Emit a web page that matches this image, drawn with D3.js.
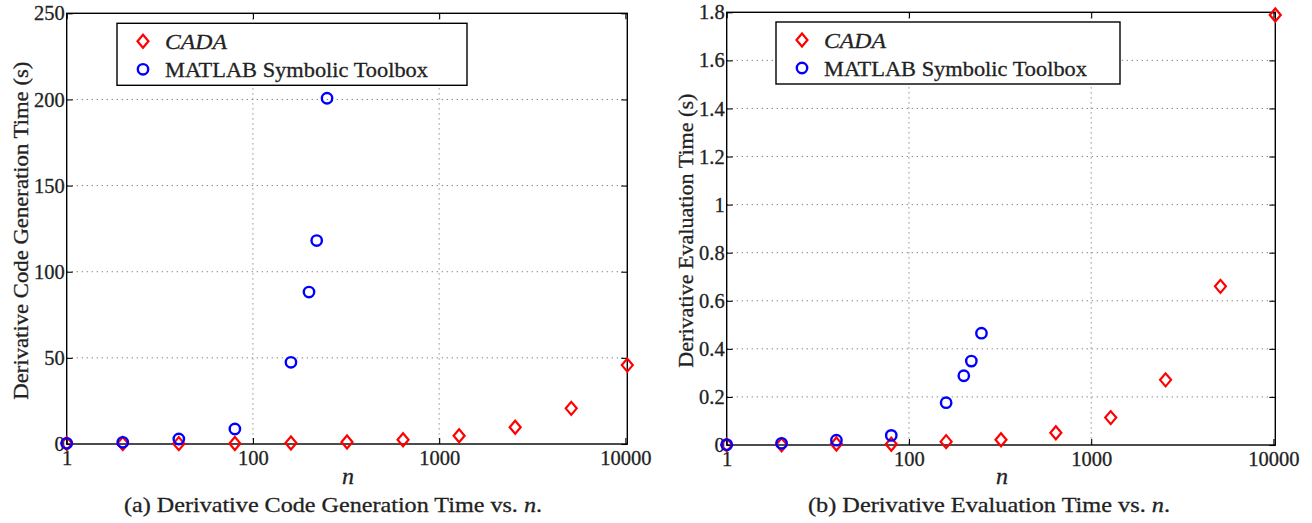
<!DOCTYPE html>
<html lang="en">
<head>
    <meta charset="UTF-8">
    <title>CADA vs MATLAB Symbolic Toolbox</title>
    <style>
        body{
            margin: 0;
            background: #fff;
        }
        svg{
            display: block;
        }
        .grid line{
            stroke: #777;
            stroke-width: 1;
            stroke-dasharray: 1.2,3.8;
        }
    </style>
    <script src="https://cdn.jsdelivr.net/npm/d3@7"></script>
</head>
<body>
<script>
    const width = 1312
    const height = 523
    const serif = "Liberation Serif"

    // problem sizes n
    const nCada = [10, 20, 40, 80, 160, 320, 640, 1280, 2560, 5120, 10240]
    const nSym = [10, 20, 40, 80, 160, 200, 220, 250]

    // (a) derivative code generation time (s)
    const genCada = [0.3, 0.3, 0.2, 0.3, 0.6, 1.2, 2.5, 4.8, 9.7, 20.7, 45.8]
    const genSym = [0.4, 1.0, 2.9, 8.7, 47.4, 88.2, 118.1, 200.7]

    // (b) derivative evaluation time (s)
    const evalCada = [0.0005, 0.001, 0.004, 0.003, 0.014, 0.022, 0.051, 0.114, 0.271, 0.66, 1.789]
    const evalSym = [0.0015, 0.007, 0.02, 0.04, 0.176, 0.288, 0.349, 0.465]

    // ticks
    const xTicks = [10, 100, 1000, 10000]
    const xTickLabels = ["1", "100", "1000", "10000"]
    const genTicks = [0, 50, 100, 150, 200, 250]
    const evalTicks = [0, 0.2, 0.4, 0.6, 0.8, 1, 1.2, 1.4, 1.6, 1.8]

    const legendNames = ["CADA", "MATLAB Symbolic Toolbox"]

    let svg = d3.select("body").append("svg")
        .attr("width", width)
        .attr("height", height)
        .attr("viewBox", `0 0 ${width} ${height}`)

    function diamond(sel){
        sel.attr("d", "M0,-6.5L5.5,0L0,6.5L-5.5,0Z")
            .attr("fill", "none")
            .attr("stroke", "#ff0000")
            .attr("stroke-width", 2.2)
    }
    function ring(sel){
        sel.attr("r", 5.2)
            .attr("fill", "none")
            .attr("stroke", "#0000ff")
            .attr("stroke-width", 2.4)
    }
    //slightly heavier text, closer to the LaTeX look
    function label(sel, size){
        sel.attr("font-family", serif)
            .attr("font-size", size)
            .attr("fill", "#222")
            .attr("stroke", "#222")
            .attr("stroke-width", 0.3)
    }

    function drawPanel(p){
        const x = d3.scaleLog().domain([10, 10240]).range([p.left, p.right])
        const y = d3.scaleLinear().domain(p.yDomain).range([p.bottom, p.top])
        const g = svg.append("g")

        //grid
        let grid = g.append("g").attr("class", "grid")
        grid.selectAll(".hg")
            .data(p.yTicks.filter(d => d > p.yDomain[0] && d < p.yDomain[1]))
            .enter().append("line")
            .attr("x1", p.left).attr("x2", p.right)
            .attr("y1", d => y(d)).attr("y2", d => y(d))
        grid.selectAll(".vg")
            .data(xTicks.slice(1, 3))
            .enter().append("line")
            .attr("x1", d => x(d)).attr("x2", d => x(d))
            .attr("y1", p.top).attr("y2", p.bottom)

        //axes, ticks pointing inwards
        g.append("g")
            .attr("transform", `translate(${p.left},0)`)
            .call(d3.axisLeft(y).tickValues(p.yTicks).tickFormat(p.yFormat)
                .tickSize(-6).tickPadding(2))
        g.append("g")
            .attr("transform", `translate(${p.right},0)`)
            .call(d3.axisRight(y).tickValues(p.yTicks).tickFormat("").tickSize(-6))
        g.append("g")
            .attr("transform", `translate(0,${p.bottom})`)
            .call(d3.axisBottom(x).tickValues(xTicks)
                .tickFormat((d, i) => xTickLabels[i]).tickSize(-6).tickPadding(6))
        g.append("g")
            .attr("transform", `translate(0,${p.top})`)
            .call(d3.axisTop(x).tickValues(xTicks).tickFormat("").tickSize(-6))
        g.selectAll(".domain").remove()
        g.selectAll(".tick line").attr("stroke", "#000").attr("stroke-width", 1.1)
        g.selectAll(".tick text").call(label, 20.5)

        g.append("rect")
            .attr("x", p.left).attr("y", p.top)
            .attr("width", p.right - p.left).attr("height", p.bottom - p.top)
            .attr("fill", "none").attr("stroke", "#000").attr("stroke-width", 1.4)

        //points
        g.append("g").selectAll("path")
            .data(nCada.map((n, i) => [n, p.cada[i]]))
            .enter().append("path")
            .attr("transform", d => `translate(${x(d[0])},${y(d[1])})`)
            .call(diamond)
        g.append("g").selectAll("circle")
            .data(nSym.map((n, i) => [n, p.sym[i]]))
            .enter().append("circle")
            .attr("cx", d => x(d[0])).attr("cy", d => y(d[1]))
            .call(ring)

        //legend
        let lg = g.append("g").attr("transform", `translate(${p.legX},${p.legY})`)
        lg.append("rect")
            .attr("width", p.legW).attr("height", 62)
            .attr("fill", "#fff").attr("stroke", "#000").attr("stroke-width", 1.4)
        lg.append("path").attr("transform", "translate(26,18)").call(diamond)
        lg.append("circle").attr("cx", 26).attr("cy", 46).call(ring)
        lg.append("text")
            .attr("x", 48).attr("y", 25.5)
            .call(label, 22).attr("font-style", "italic")
            .attr("textLength", 62).attr("lengthAdjust", "spacingAndGlyphs")
            .text(legendNames[0])
        lg.append("text")
            .attr("x", 48).attr("y", 53.5)
            .call(label, 22)
            .attr("textLength", 263).attr("lengthAdjust", "spacingAndGlyphs")
            .text(legendNames[1])

        //labels
        g.append("text")
            .attr("transform", `translate(${p.yLabX},${(p.top + p.bottom) / 2 + 2}) rotate(-90)`)
            .attr("text-anchor", "middle")
            .attr("dy", "0.35em")
            .call(label, 22)
            .attr("textLength", p.yLabLen).attr("lengthAdjust", "spacingAndGlyphs")
            .text(p.yLabel)
        g.append("text")
            .attr("x", (p.left + p.right) / 2 + 1).attr("y", 484)
            .attr("text-anchor", "middle")
            .call(label, 24).attr("font-style", "italic")
            .text("n")
        let cap = g.append("text")
            .attr("x", p.capX).attr("y", 512)
            .attr("text-anchor", "middle")
            .call(label, 22)
            .attr("textLength", p.capLen).attr("lengthAdjust", "spacingAndGlyphs")
        cap.append("tspan").text(p.caption)
        cap.append("tspan").attr("font-style", "italic").text("n")
        cap.append("tspan").text(".")
    }

    drawPanel({
        left: 66.7, right: 627.3, top: 13.3, bottom: 444,
        yDomain: [0, 250], yTicks: genTicks, yFormat: d3.format("d"),
        cada: genCada, sym: genSym,
        legX: 117, legY: 23.3, legW: 350,
        yLabX: 20, yLabLen: 338, yLabel: "Derivative Code Generation Time (s)",
        capX: 333, capLen: 418, caption: "(a) Derivative Code Generation Time vs. "
    })
    drawPanel({
        left: 726.7, right: 1275.3, top: 12.3, bottom: 445,
        yDomain: [0, 1.8], yTicks: evalTicks, yFormat: d => d3.format("~g")(d),
        cada: evalCada, sym: evalSym,
        legX: 776, legY: 22, legW: 344,
        yLabX: 685, yLabLen: 274, yLabel: "Derivative Evaluation Time (s)",
        capX: 989, capLen: 362, caption: "(b) Derivative Evaluation Time vs. "
    })
</script>
</body>
</html>
